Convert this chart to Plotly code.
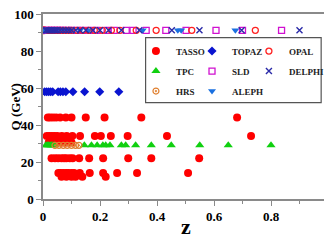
import plotly.graph_objects as go

Q_Z = 91.2
# TASSO (several energies)
tasso_q44 = [0.017, 0.025, 0.035, 0.046, 0.060, 0.080, 0.100, 0.150, 0.216, 0.345, 0.681]
tasso_q34 = [0.013, 0.022, 0.031, 0.040, 0.050, 0.066, 0.083, 0.103, 0.130, 0.182, 0.203, 0.238, 0.297, 0.435, 0.730]
tasso_q30 = [0.020, 0.030, 0.040, 0.050, 0.060, 0.070, 0.080, 0.090, 0.100]
tasso_q22 = [0.030, 0.042, 0.053, 0.065, 0.074, 0.082, 0.094, 0.104, 0.127, 0.162, 0.211, 0.299, 0.380, 0.548]
tasso_q14 = [0.054, 0.062, 0.071, 0.081, 0.089, 0.100, 0.109, 0.129, 0.164, 0.211, 0.260, 0.330, 0.509]
tasso_q12 = [0.065, 0.082, 0.100, 0.114, 0.138, 0.220]
tasso_q91 = [0.003]

topaz_z = [0.006, 0.013, 0.020, 0.027, 0.034, 0.053, 0.061, 0.070, 0.080, 0.105, 0.146, 0.199, 0.266]
topaz_q = 58.0

tpc_z = [0.010, 0.015, 0.020, 0.025, 0.030, 0.035, 0.040, 0.145, 0.170, 0.190, 0.210, 0.220, 0.235,
         0.275, 0.290, 0.325, 0.380, 0.450, 0.550, 0.650, 0.800]
tpc_q = 29.0

hrs_z = [0.042, 0.056, 0.071, 0.085, 0.100, 0.114, 0.126]
hrs_q = 29.0

opal_z = [0.020, 0.030, 0.040, 0.050, 0.060, 0.070, 0.080, 0.090, 0.100, 0.120, 0.140, 0.160,
          0.180, 0.208, 0.240, 0.270, 0.327, 0.397, 0.522, 0.745]
sld_z = [0.010, 0.020, 0.030, 0.040, 0.050, 0.060, 0.070, 0.085, 0.100, 0.120, 0.140, 0.165, 0.190,
         0.225, 0.250, 0.292, 0.316, 0.362, 0.431, 0.502, 0.607, 0.700, 0.837]
delphi_z = [0.010, 0.015, 0.020, 0.025, 0.030, 0.035, 0.040, 0.045, 0.050, 0.060, 0.070, 0.080,
            0.090, 0.100, 0.115, 0.130, 0.150, 0.175, 0.200, 0.230, 0.275, 0.338, 0.452, 0.549, 0.697, 0.900]
aleph_z = [0.005, 0.010, 0.015, 0.020, 0.030, 0.040, 0.050, 0.060, 0.080, 0.100, 0.130, 0.160,
           0.350, 0.473, 0.485, 0.675]

x_ticks = [0, 0.2, 0.4, 0.6, 0.8, 1]
x_tick_text = ["0", "0.2", "0.4", "0.6", "0.8", "1"]
y_ticks = [0, 20, 40, 60, 80, 100]

tasso_z = tasso_q91 + tasso_q44 + tasso_q34 + tasso_q30 + tasso_q22 + tasso_q14 + tasso_q12
tasso_qv = ([Q_Z] * len(tasso_q91) + [44.0] * len(tasso_q44) + [34.0] * len(tasso_q34)
            + [30.5] * len(tasso_q30) + [22.0] * len(tasso_q22) + [14.0] * len(tasso_q14)
            + [12.0] * len(tasso_q12))

FONT = "Liberation Serif"
fig = go.Figure()

def add(name, xs, ys, symbol, color, size, legend, line_w=0):
    fig.add_trace(go.Scatter(
        x=xs, y=ys, mode="markers", name=name, legend=legend, legendgroup=name,
        marker=dict(symbol=symbol, color=color, size=size,
                    line=dict(color=color, width=line_w)),
    ))

add("TASSO", tasso_z, tasso_qv, "circle", "#ff0000", 8, "legend")
add("TPC", tpc_z, [tpc_q] * len(tpc_z), "triangle-up", "#10d010", 8, "legend")
add("HRS", hrs_z, [hrs_q] * len(hrs_z), "circle-open-dot", "#e08030", 6, "legend", 1.2)
add("TOPAZ", topaz_z, [topaz_q] * len(topaz_z), "diamond", "#0a14d0", 7, "legend2")
add("SLD", sld_z, [Q_Z] * len(sld_z), "square-open", "#d010d0", 6, "legend2", 1.3)
add("ALEPH", aleph_z, [Q_Z] * len(aleph_z), "triangle-down", "#1a70e0", 7, "legend2")
add("OPAL", opal_z, [Q_Z] * len(opal_z), "circle-open", "#ff2020", 6, "legend3", 1.3)
add("DELPHI", delphi_z, [Q_Z] * len(delphi_z), "x-thin-open", "#2a2aa8", 6, "legend3", 1.4)

axis_common = dict(
    showline=True, linecolor="#8a8a8a", linewidth=1.5, mirror=True,
    ticks="outside", ticklen=5, tickcolor="#8a8a8a", tickwidth=1.2,
    showgrid=False, zeroline=False, automargin=False, ticklabeloverflow="allow",
    tickfont=dict(family=FONT, size=13, color="black", weight="bold"),
)

leg_common = dict(
    orientation="v", yanchor="top", xanchor="left", y=0.878,
    bgcolor="rgba(0,0,0,0)", borderwidth=0, traceorder="grouped", tracegroupgap=1,
    font=dict(family=FONT, size=9, color="#222222", weight="bold"),
    itemwidth=30,
)

fig.update_layout(
    width=324, height=233,
    margin=dict(l=35, r=3, t=6, b=42),
    paper_bgcolor="white", plot_bgcolor="white",
    showlegend=True,
    legend=dict(x=0.325, **leg_common),
    legend2=dict(x=0.521, **leg_common),
    legend3=dict(x=0.720, **leg_common),
    shapes=[dict(type="rect", xref="paper", yref="paper", x0=0.360, x1=0.976, y0=0.521, y1=0.872,
                 line=dict(color="#555555", width=1.2), fillcolor="white", layer="above")],
    xaxis=dict(range=[0, 1], tickvals=x_ticks, ticktext=x_tick_text,
               minor=dict(dtick=0.1, ticks="outside", ticklen=3, tickcolor="#8a8a8a"),
               **axis_common),
    yaxis=dict(range=[0, 100], tickvals=y_ticks,
               minor=dict(dtick=10, ticks="outside", ticklen=3, tickcolor="#8a8a8a"),
               **axis_common),
    annotations=[
        dict(text="Q (GeV)", xref="paper", yref="paper", x=-0.095, y=0.5, textangle=-90,
             showarrow=False, xanchor="center", yanchor="middle",
             font=dict(family=FONT, size=13, color="black", weight="bold")),
        dict(text="z", xref="paper", yref="paper", x=0.502, y=-0.15,
             showarrow=False, xanchor="center", yanchor="middle",
             font=dict(family=FONT, size=22, color="black", weight="bold")),
    ],
)

fig.write_html("out.html")
